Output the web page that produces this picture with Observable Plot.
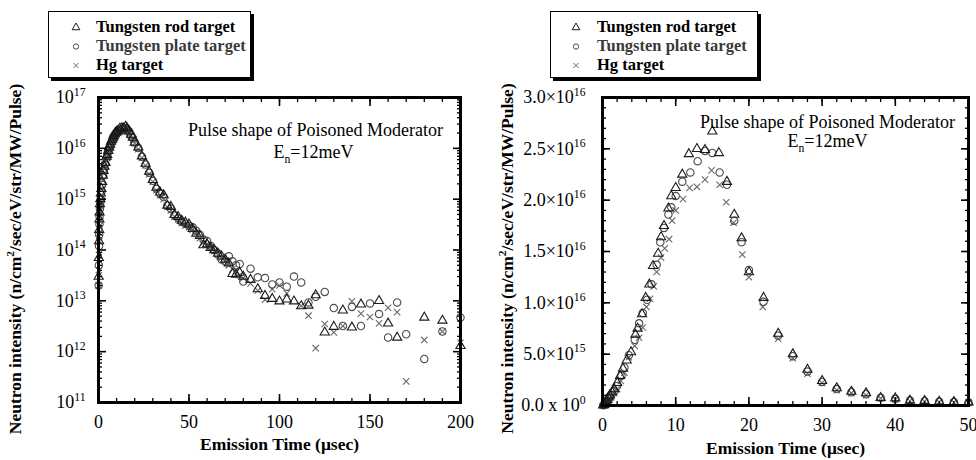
<!DOCTYPE html>
<html>
<head>
<meta charset="utf-8">
<script src="https://cdn.jsdelivr.net/npm/d3@7"></script>
<script src="https://cdn.jsdelivr.net/npm/@observablehq/plot@0.6"></script>
<style>
  body { margin: 0; background: #fff; }
  #wrap { position: relative; width: 976px; height: 460px; font-family: "Liberation Serif", "Times New Roman", serif; background: #fff; }
  .legend { position: absolute; top: 11px; height: 67px; border: 1px solid #000; box-shadow: 3px 3px 0 #000; background: #fff; box-sizing: border-box; font-size: 16.5px; font-weight: bold; }
  .legend .row { position: absolute; left: 0; height: 18px; white-space: nowrap; }
</style>
</head>
<body>
<div id="wrap"></div>
<script>
// ---------------- data ----------------
const seriesNames = ["Tungsten rod target", "Tungsten plate target", "Hg target"];
const seriesSymbols = ["triangle", "circle", "times"];
const seriesColors = ["#1a1a1a", "#4a4a4a", "#6a6a6a"];
const legendTextColors = ["#000", "#3a3a3a", "#000"];

// 0–50 µs, intensity in units of 1e15 n/cm2/sec/eV/str/MW/Pulse
const rodT = [0.1,0.2,0.3,0.4,0.5,0.6,0.8,1.0,1.3,1.6,2.0,2.4,2.8,3.3,3.9,4.5,4.8,5.4,5.9,6.4,6.9,7.6,8.0,8.4,9.0,9.4,10.0,10.9,11.8,12.9,14.0,15.0,15.9,17.0,18.0,19.0,20.0,22.0,24.0,26.0,28,30,32,34,36,38,40,42,44,46,48,50];
const rodV = [0.03,0.07,0.15,0.25,0.4,0.55,0.8,1.0,1.3,1.6,2.2,2.9,3.6,4.4,5.2,6.9,7.5,8.9,10.5,11.8,13.6,14.8,16.4,17.5,19.2,20.4,21.2,22.5,24.5,25.0,24.9,26.7,24.6,21.8,18.6,16.3,13.0,10.5,7.0,5.0,3.5,2.4,1.7,1.36,1.2,0.75,0.71,0.49,0.45,0.38,0.35,0.32];
const plateT = [0.1,0.2,0.3,0.4,0.5,0.6,0.8,1.0,1.2,1.6,2.0,2.6,3.0,3.6,4.4,5.0,5.5,6.1,6.7,7.4,7.9,8.4,9.0,9.4,10.0,10.9,12.0,13.0,14.0,15.0,16,17,18,19,20,22,24,26,28,30,32,34,36,38,40,42,44,46,48,50];
const plateV = [0.02,0.05,0.12,0.2,0.32,0.45,0.65,0.85,1.0,1.4,1.9,2.9,3.7,4.9,6.4,8.0,9.0,10.3,11.8,13.7,15.9,17.3,18.6,19.3,20.4,21.8,22.7,23.8,24.8,24.6,22.7,21.5,18.0,15.9,13.2,10.1,6.8,4.8,3.3,2.3,1.6,1.3,1.1,0.75,0.65,0.48,0.42,0.36,0.33,0.30];
const hgT = [0.1,0.2,0.3,0.4,0.5,0.6,0.8,1.0,1.2,1.6,2.0,2.5,3.0,3.6,4.4,5.0,5.5,6.0,6.5,7.0,7.4,8.0,8.5,9.1,9.5,10.0,11.0,11.9,12.9,14.0,14.9,16.0,16.9,17.9,19.1,20.0,21.9,24,26,28,30,32,34,36,38,40,42,44,46,48,50];
const hgV = [0.02,0.04,0.08,0.15,0.22,0.3,0.45,0.6,0.8,1.2,1.6,2.4,3.2,4.7,5.8,6.6,7.6,9.6,10.4,11.6,13.0,14.4,15.3,16.2,18.0,19.0,20.1,21.2,21.3,22.0,22.9,21.5,19.8,17.8,14.7,12.5,9.6,6.5,4.6,3.1,2.2,1.5,1.2,1.0,0.7,0.6,0.45,0.4,0.34,0.3,0.28];

// 52–200 µs tail (only on the log panel), absolute intensity
const rodTailT = [52,54,56,58,60,62,64,66,68,70,72,74,76,78,80,84,88,92,96,100,104,108,112,116,120,125,130,135,140,145,155,160,165,180,190,200];
const rodTailV = [2.6e14,2.1e14,1.9e14,1.25e14,1.3e14,1.1e14,1.0e14,8.5e13,7.5e13,6.5e13,5.5e13,3.4e13,3.3e13,3.6e13,3.0e13,2.6e13,1.7e13,1.26e13,1.1e13,9.8e12,1.07e13,9.8e12,7.9e12,8.1e12,1.3e13,2.4e12,3.1e12,6.5e12,3.0e12,8.5e12,1.0e13,3.6e12,1.9e12,4.7e12,4.1e12,1.3e12];
const plateTailT = [52,54,56,58,60,62,64,66,68,70,72,74,76,78,80,84,88,92,96,100,104,108,112,116,120,125,130,135,140,145,150,155,160,165,170,180,190,200];
const plateTailV = [2.8e14,2.4e14,2.0e14,1.6e14,1.5e14,1.2e14,1.0e14,8.5e13,6.5e13,6.0e13,7.5e13,6.0e13,5.0e13,5.3e13,2.4e13,4.3e13,2.9e13,2.8e13,2.1e13,2.3e13,1.9e13,3.0e13,2.3e13,9.3e12,1.2e13,1.5e13,7.2e12,3.2e12,7.6e12,3.2e12,8.9e12,5.5e12,1.9e12,9.3e12,2.2e12,7.2e11,2.5e12,4.7e12];
const hgTailT = [52,54,56,58,60,62,64,66,68,70,72,74,76,78,80,84,88,92,96,100,104,112,116,120,125,130,135,140,145,150,155,160,165,170,180,190,200];
const hgTailV = [2.5e14,2.2e14,1.7e14,1.4e14,1.3e14,1.15e14,9.5e13,8.0e13,7.0e13,6.0e13,5.0e13,4.2e13,3.8e13,3.2e13,2.8e13,2.2e13,1.6e13,1.05e13,1.7e13,2.0e13,1.4e13,8.0e12,5.1e12,1.17e12,3.5e12,2.4e12,3.2e12,9.8e12,5.6e12,4.8e12,3.6e12,7.3e12,6.0e12,2.6e11,1.7e12,2.5e12,1.5e12];

// ticks and tick labels (^{..} = superscript, _{..} = subscript)
const leftXTicks = [0, 50, 100, 150, 200];
const leftYTicks = [1e11, 1e12, 1e13, 1e14, 1e15, 1e16, 1e17];
const leftYLabels = ["10^{11}", "10^{12}", "10^{13}", "10^{14}", "10^{15}", "10^{16}", "10^{17}"];
const rightXTicks = [0, 10, 20, 30, 40, 50];
const rightYTicks = [0, 5e15, 1e16, 1.5e16, 2e16, 2.5e16, 3e16];
const rightYLabels = ["0.0 x 10^{0}", "5.0×10^{15}", "1.0×10^{16}", "1.5×10^{16}", "2.0×10^{16}", "2.5×10^{16}", "3.0×10^{16}"];

const titleText = "Pulse shape of Poisoned Moderator";
const energyText = "E_{n}=12meV";
const xLabel = "Emission Time (μsec)";
const yLabel = "Neutron intensity (n/cm^{2}/sec/eV/str/MW/Pulse)";

// ---------------- build tables ----------------
const E15 = 1e15;
const mainT = [rodT, plateT, hgT], mainV = [rodV, plateV, hgV];
const tailT = [rodTailT, plateTailT, hgTailT], tailV = [rodTailV, plateTailV, hgTailV];
const rightData = [], leftData = [];
seriesNames.forEach((s, k) => {
  mainT[k].forEach((t, i) => { const r = {series: s, t, v: mainV[k][i] * E15}; rightData.push(r); leftData.push(r); });
  tailT[k].forEach((t, i) => leftData.push({series: s, t, v: tailV[k][i]}));
});
const drawOrder = [2, 1, 0];

const symScale = {domain: seriesNames, range: seriesSymbols};
const colScale = {domain: seriesNames, range: seriesColors};

function dotMarks(data) {
  return drawOrder.map(k => Plot.dot(data.filter(d => d.series === seriesNames[k]), {
    x: "t", y: "v", symbol: "series", stroke: "series", fill: "none",
    r: k === 0 ? 3.4 : (k === 1 ? 3.7 : 3.0), strokeWidth: 1.1
  }));
}

function frameTicks(xMajor, xMinor, yMajor, yMinor) {
  const out = [];
  for (const a of ["bottom", "top"]) {
    out.push(Plot.axisX(xMinor, {anchor: a, tickSize: -4, text: null, label: null, strokeWidth: 1.3}));
    out.push(Plot.axisX(xMajor, {anchor: a, tickSize: -8, text: null, label: null, strokeWidth: 1.6}));
  }
  for (const a of ["left", "right"]) {
    out.push(Plot.axisY(yMinor, {anchor: a, tickSize: -4, text: null, label: null, strokeWidth: 1.3}));
    out.push(Plot.axisY(yMajor, {anchor: a, tickSize: -8, text: null, label: null, strokeWidth: 1.6}));
  }
  return out;
}

const baseStyle = {fontFamily: '"Liberation Serif", "Times New Roman", serif', fontSize: "18px", color: "#000", background: "transparent", overflow: "visible"};

// ---------------- left (log) panel ----------------
const leftYMinor = [];
for (let e = 11; e < 17; e++) for (let m = 2; m <= 9; m++) leftYMinor.push(m * Math.pow(10, e));
const leftXMinor = d3.range(0, 201, 10);

const left = Plot.plot({
  width: 488, height: 460,
  marginLeft: 98, marginRight: 28, marginTop: 97, marginBottom: 58,
  x: {domain: [0, 200]},
  y: {type: "log", domain: [1e11, 1e17]},
  symbol: symScale, color: colScale,
  style: baseStyle,
  marks: [
    ...dotMarks(leftData),
    ...frameTicks(leftXTicks, leftXMinor, leftYTicks, leftYMinor),
    Plot.axisX(leftXTicks, {anchor: "bottom", tickSize: 0, tickPadding: 13, fontSize: 18, label: null}),
    Plot.axisY(leftYTicks, {anchor: "left", tickSize: 0, tickPadding: 10, dx: -3, fontSize: 18, label: null, tickFormat: d => leftYLabels[leftYTicks.indexOf(d)]}),
    Plot.frame({stroke: "#000", strokeWidth: 3}),
    Plot.text([titleText], {frameAnchor: "top", dx: 36, dy: 26, fontSize: 18}),
    Plot.text([energyText], {frameAnchor: "top", dx: 34, dy: 48, fontSize: 18}),
    Plot.text([xLabel], {frameAnchor: "bottom", dy: 47, fontSize: 17.5, fontWeight: "bold"}),
    Plot.text([yLabel], {frameAnchor: "left", textAnchor: "middle", dx: -83, dy: 9, rotate: -90, fontSize: 17.5, fontWeight: "bold"})
  ]
});

// ---------------- right (linear) panel ----------------
const rightXMinor = d3.range(0, 51, 2);
const rightYMinor = d3.range(0, 31, 1).map(d => d * E15);

const right = Plot.plot({
  width: 488, height: 460,
  marginLeft: 114, marginRight: 8, marginTop: 97, marginBottom: 55,
  x: {domain: [0, 50]},
  y: {domain: [0, 3e16]},
  symbol: symScale, color: colScale,
  style: baseStyle,
  marks: [
    ...dotMarks(rightData),
    ...frameTicks(rightXTicks, rightXMinor, rightYTicks, rightYMinor),
    Plot.axisX(rightXTicks, {anchor: "bottom", tickSize: 0, tickPadding: 13, fontSize: 18, label: null}),
    Plot.axisY(rightYTicks, {anchor: "left", tickSize: 0, tickPadding: 12, dx: -5, fontSize: 18, label: null, tickFormat: d => rightYLabels[rightYTicks.indexOf(d)]}),
    Plot.frame({stroke: "#000", strokeWidth: 3}),
    Plot.text([titleText], {frameAnchor: "top", dx: 42, dy: 18, fontSize: 18}),
    Plot.text([energyText], {frameAnchor: "top", dx: 42, dy: 37, fontSize: 18}),
    Plot.text([xLabel], {frameAnchor: "bottom", dy: 48, fontSize: 17.5, fontWeight: "bold"}),
    Plot.text([yLabel], {frameAnchor: "left", textAnchor: "middle", dx: -95, dy: 7, rotate: -90, fontSize: 17.5, fontWeight: "bold"})
  ]
});

// turn ^{..} / _{..} markup inside SVG texts into tspans
function richText(svg) {
  svg.querySelectorAll("text").forEach(node => {
    const targets = node.querySelectorAll("tspan").length ? Array.from(node.querySelectorAll("tspan")) : [node];
    targets.forEach(el => {
      const s = el.textContent;
      if (!/[\^_]\{/.test(s)) return;
      const parts = s.split(/([\^_]\{[^}]*\})/).filter(p => p.length);
      el.textContent = "";
      let shift = 0;
      parts.forEach(p => {
        const ts = document.createElementNS("http://www.w3.org/2000/svg", "tspan");
        let want = 0, txt = p, small = false;
        if (p.startsWith("^{")) { want = -0.42; txt = p.slice(2, -1); small = true; }
        else if (p.startsWith("_{")) { want = 0.25; txt = p.slice(2, -1); small = true; }
        if (want !== shift) ts.setAttribute("dy", ((want - shift) * (small ? 1 / 0.65 : 1)) + "em");
        if (small) ts.setAttribute("font-size", "65%");
        ts.textContent = txt;
        el.appendChild(ts);
        shift = want;
      });
    });
  });
}
richText(left);
richText(right);

const wrap = document.getElementById("wrap");
left.style.position = "absolute"; left.style.left = "0px"; left.style.top = "0px";
right.style.position = "absolute"; right.style.left = "488px"; right.style.top = "0px";
wrap.appendChild(left);
wrap.appendChild(right);

// ---------------- legends ----------------
function symbolSvg(k) {
  const ns = "http://www.w3.org/2000/svg";
  const svg = document.createElementNS(ns, "svg");
  svg.setAttribute("width", 12); svg.setAttribute("height", 12);
  const p = document.createElementNS(ns, "path");
  const sym = [d3.symbolTriangle, d3.symbolCircle, d3.symbolTimes][k];
  p.setAttribute("d", d3.symbol(sym, [26, 22, 18][k])());
  p.setAttribute("transform", "translate(6,6.5)");
  p.setAttribute("fill", "none");
  p.setAttribute("stroke", seriesColors[k]);
  p.setAttribute("stroke-width", 1);
  svg.appendChild(p);
  return svg;
}
function makeLegend(left, width, symX, textX) {
  const box = document.createElement("div");
  box.className = "legend";
  box.style.left = left + "px";
  box.style.width = width + "px";
  seriesNames.forEach((name, k) => {
    const row = document.createElement("div");
    row.className = "row";
    row.style.top = (6 + k * 19) + "px";
    const s = symbolSvg(k);
    s.style.position = "absolute"; s.style.left = (symX - 6) + "px"; s.style.top = "3px";
    row.appendChild(s);
    const tx = document.createElement("span");
    tx.textContent = name;
    tx.style.position = "absolute"; tx.style.left = textX + "px"; tx.style.top = "-1px";
    tx.style.color = legendTextColors[k];
    row.appendChild(tx);
    box.appendChild(row);
  });
  wrap.appendChild(box);
}
makeLegend(48, 203, 27, 47);
makeLegend(550, 208, 25, 46);
</script>
</body>
</html>
